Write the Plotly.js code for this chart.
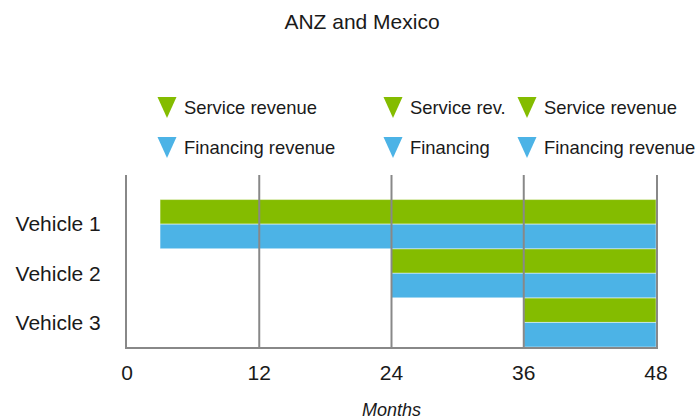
<!DOCTYPE html>
<html>
<head>
<meta charset="utf-8">
<script src="https://cdn.plot.ly/plotly-3.0.1.min.js"></script>
<style>html,body{margin:0;padding:0;background:#fff;}#chart{width:697px;height:420px;}</style>
</head>
<body>
<div id="chart"></div>
<script>
// ---- data ----
const vehicles = ["Vehicle 1", "Vehicle 2", "Vehicle 3"];
const serviceStart = [3, 24, 36];
const serviceEnd = [48, 48, 48];
const financingStart = [3, 24, 36];
const financingEnd = [48, 48, 48];
const monthTicks = [0, 12, 24, 36, 48];
const serviceLegend = ["Service revenue", "Service rev.", "Service revenue"];
const financingLegend = ["Financing revenue", "Financing", "Financing revenue"];

// ---- style ----
const GREEN = "#84BC00";
const BLUE = "#4CB3E6";
const GRID = "#888888";
const TEXT = "#1a1a1a";
const FONT = "'Liberation Sans', Arial, sans-serif";

const W = 697, H = 420;
const M = {l: 127, r: 41, t: 175, b: 73};
const plotW = W - M.l - M.r, plotH = H - M.t - M.b;
const pxX = px => (px - M.l) / plotW;
const pxY = py => (H - M.b - py) / plotH;

const serviceRows = vehicles.map((_, i) => 2 * i);
const financingRows = vehicles.map((_, i) => 2 * i + 1);

const barLine = {color: "rgba(255,255,255,0.45)", width: 1};
const traces = [
  {
    type: "bar", orientation: "h", name: "Service revenue",
    y: serviceRows,
    x: serviceEnd.map((e, i) => e - serviceStart[i]),
    base: serviceStart,
    width: 1,
    marker: {color: GREEN, line: barLine},
    hoverinfo: "skip", showlegend: false
  },
  {
    type: "bar", orientation: "h", name: "Financing revenue",
    y: financingRows,
    x: financingEnd.map((e, i) => e - financingStart[i]),
    base: financingStart,
    width: 1,
    marker: {color: BLUE, line: barLine},
    hoverinfo: "skip", showlegend: false
  }
];

// gridlines above bars
const shapes = monthTicks.slice(1, -1).map(t => ({
  type: "line", xref: "x", yref: "paper", x0: t, x1: t, y0: 0, y1: 1,
  line: {color: GRID, width: 2}, layer: "above"
}));

// custom legend: three columns of down triangles
const colX = [167, 393, 527];
const rowY = [107, 147];
const annotations = [];
[serviceLegend, financingLegend].forEach((labels, r) => {
  const color = r === 0 ? GREEN : BLUE;
  labels.forEach((lab, c) => {
    shapes.push({
      type: "path", xref: "paper", yref: "paper",
      xsizemode: "pixel", ysizemode: "pixel",
      xanchor: pxX(colX[c]), yanchor: pxY(rowY[r]),
      path: "M-9.5,10 L9.5,10 L0,-11 Z",
      fillcolor: color, line: {width: 0}
    });
    annotations.push({
      xref: "paper", yref: "paper",
      x: pxX(colX[c] + 15), y: pxY(rowY[r]),
      xanchor: "left", yanchor: "middle",
      text: lab, showarrow: false,
      font: {family: FONT, size: 18.4, color: TEXT}
    });
  });
});

const layout = {
  width: W, height: H,
  margin: M,
  paper_bgcolor: "#fff", plot_bgcolor: "#fff",
  font: {family: FONT, color: TEXT},
  title: {
    text: "ANZ and Mexico",
    xref: "container", yref: "container",
    x: 362 / W, y: 1 - 22 / H, xanchor: "center", yanchor: "middle",
    font: {family: FONT, size: 21, color: TEXT}
  },
  xaxis: {
    range: [0, 48],
    tickvals: monthTicks,
    ticktext: monthTicks.map(String),
    showgrid: false, zeroline: false,
    showline: true, linecolor: GRID, linewidth: 2,
    ticks: "", ticklabelstandoff: 6,
    tickfont: {family: FONT, size: 21, color: TEXT},
    title: {text: "Months", standoff: 24, font: {family: FONT, size: 18, color: TEXT, style: "italic"}},
    fixedrange: true
  },
  yaxis: {
    range: [5.5, -1.5],
    tickvals: vehicles.map((_, i) => 2 * i + 0.5),
    ticktext: vehicles,
    showgrid: false, zeroline: false,
    showline: true, mirror: true, linecolor: GRID, linewidth: 2,
    ticks: "", ticklabelstandoff: 20,
    tickfont: {family: FONT, size: 21, color: TEXT},
    fixedrange: true
  },
  bargap: 0,
  shapes: shapes,
  annotations: annotations,
  showlegend: false
};

Plotly.newPlot("chart", traces, layout, {displayModeBar: false, staticPlot: true});
</script>
</body>
</html>
